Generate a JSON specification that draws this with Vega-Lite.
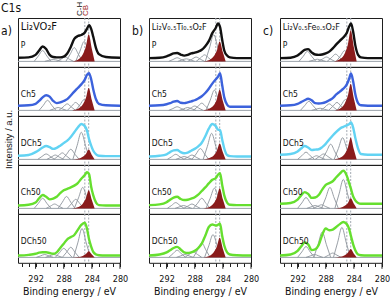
{
"$schema":"https://vega.github.io/schema/vega-lite/v6.json",
"padding":{"left":0,"top":1,"right":0,"bottom":0},
"data":{"values":[
{"p":"a","r":1,"k":"e","x":294.5,"y":0.10},{"p":"a","r":1,"k":"e","x":293,"y":0.11},{"p":"a","r":1,"k":"e","x":292,"y":0.18},{"p":"a","r":1,"k":"e","x":291.5,"y":0.30},{"p":"a","r":1,"k":"e","x":291,"y":0.41},{"p":"a","r":1,"k":"e","x":290.5,"y":0.34},{"p":"a","r":1,"k":"e","x":290,"y":0.18},{"p":"a","r":1,"k":"e","x":289.5,"y":0.12},{"p":"a","r":1,"k":"e","x":289,"y":0.11},{"p":"a","r":1,"k":"e","x":288.5,"y":0.11},{"p":"a","r":1,"k":"e","x":288,"y":0.13},{"p":"a","r":1,"k":"e","x":287.5,"y":0.22},{"p":"a","r":1,"k":"e","x":287,"y":0.40},{"p":"a","r":1,"k":"e","x":286.5,"y":0.62},{"p":"a","r":1,"k":"e","x":286,"y":0.70},{"p":"a","r":1,"k":"e","x":285.5,"y":0.73},{"p":"a","r":1,"k":"e","x":285,"y":0.80},{"p":"a","r":1,"k":"e","x":284.7,"y":0.90},{"p":"a","r":1,"k":"e","x":284.4,"y":1.0},{"p":"a","r":1,"k":"e","x":284.1,"y":0.90},{"p":"a","r":1,"k":"e","x":283.8,"y":0.68},{"p":"a","r":1,"k":"e","x":283.4,"y":0.36},{"p":"a","r":1,"k":"e","x":283,"y":0.20},{"p":"a","r":1,"k":"e","x":282,"y":0.12},{"p":"a","r":1,"k":"e","x":280,"y":0.10},
{"p":"a","r":2,"k":"e","x":294.5,"y":0.13},{"p":"a","r":2,"k":"e","x":293,"y":0.14},{"p":"a","r":2,"k":"e","x":292,"y":0.18},{"p":"a","r":2,"k":"e","x":291.5,"y":0.26},{"p":"a","r":2,"k":"e","x":291,"y":0.36},{"p":"a","r":2,"k":"e","x":290.5,"y":0.42},{"p":"a","r":2,"k":"e","x":290,"y":0.38},{"p":"a","r":2,"k":"e","x":289.5,"y":0.26},{"p":"a","r":2,"k":"e","x":289,"y":0.20},{"p":"a","r":2,"k":"e","x":288.5,"y":0.22},{"p":"a","r":2,"k":"e","x":288,"y":0.26},{"p":"a","r":2,"k":"e","x":287.5,"y":0.31},{"p":"a","r":2,"k":"e","x":287,"y":0.41},{"p":"a","r":2,"k":"e","x":286.5,"y":0.52},{"p":"a","r":2,"k":"e","x":286,"y":0.62},{"p":"a","r":2,"k":"e","x":285.5,"y":0.72},{"p":"a","r":2,"k":"e","x":285,"y":0.85},{"p":"a","r":2,"k":"e","x":284.7,"y":0.98},{"p":"a","r":2,"k":"e","x":284.4,"y":1.03},{"p":"a","r":2,"k":"e","x":284.1,"y":0.86},{"p":"a","r":2,"k":"e","x":283.8,"y":0.58},{"p":"a","r":2,"k":"e","x":283.4,"y":0.30},{"p":"a","r":2,"k":"e","x":283,"y":0.18},{"p":"a","r":2,"k":"e","x":282,"y":0.14},{"p":"a","r":2,"k":"e","x":280,"y":0.13},
{"p":"a","r":3,"k":"e","x":294.5,"y":0.10},{"p":"a","r":3,"k":"e","x":293,"y":0.12},{"p":"a","r":3,"k":"e","x":292,"y":0.20},{"p":"a","r":3,"k":"e","x":291.5,"y":0.26},{"p":"a","r":3,"k":"e","x":291,"y":0.33},{"p":"a","r":3,"k":"e","x":290.5,"y":0.37},{"p":"a","r":3,"k":"e","x":290,"y":0.34},{"p":"a","r":3,"k":"e","x":289.5,"y":0.29},{"p":"a","r":3,"k":"e","x":289,"y":0.32},{"p":"a","r":3,"k":"e","x":288.5,"y":0.38},{"p":"a","r":3,"k":"e","x":288,"y":0.45},{"p":"a","r":3,"k":"e","x":287.5,"y":0.52},{"p":"a","r":3,"k":"e","x":287,"y":0.62},{"p":"a","r":3,"k":"e","x":286.5,"y":0.75},{"p":"a","r":3,"k":"e","x":286,"y":0.88},{"p":"a","r":3,"k":"e","x":285.5,"y":0.98},{"p":"a","r":3,"k":"e","x":285,"y":0.92},{"p":"a","r":3,"k":"e","x":284.7,"y":0.80},{"p":"a","r":3,"k":"e","x":284.4,"y":0.56},{"p":"a","r":3,"k":"e","x":284.1,"y":0.38},{"p":"a","r":3,"k":"e","x":283.8,"y":0.24},{"p":"a","r":3,"k":"e","x":283.4,"y":0.14},{"p":"a","r":3,"k":"e","x":283,"y":0.10},{"p":"a","r":3,"k":"e","x":282,"y":0.09},{"p":"a","r":3,"k":"e","x":280,"y":0.09},
{"p":"a","r":4,"k":"e","x":294.5,"y":0.08},{"p":"a","r":4,"k":"e","x":293,"y":0.10},{"p":"a","r":4,"k":"e","x":292,"y":0.16},{"p":"a","r":4,"k":"e","x":291.5,"y":0.28},{"p":"a","r":4,"k":"e","x":291,"y":0.37},{"p":"a","r":4,"k":"e","x":290.5,"y":0.32},{"p":"a","r":4,"k":"e","x":290,"y":0.25},{"p":"a","r":4,"k":"e","x":289.5,"y":0.27},{"p":"a","r":4,"k":"e","x":289,"y":0.32},{"p":"a","r":4,"k":"e","x":288.5,"y":0.42},{"p":"a","r":4,"k":"e","x":288,"y":0.50},{"p":"a","r":4,"k":"e","x":287.5,"y":0.54},{"p":"a","r":4,"k":"e","x":287,"y":0.58},{"p":"a","r":4,"k":"e","x":286.5,"y":0.63},{"p":"a","r":4,"k":"e","x":286,"y":0.70},{"p":"a","r":4,"k":"e","x":285.5,"y":0.82},{"p":"a","r":4,"k":"e","x":285,"y":0.92},{"p":"a","r":4,"k":"e","x":284.7,"y":1.0},{"p":"a","r":4,"k":"e","x":284.4,"y":0.95},{"p":"a","r":4,"k":"e","x":284.1,"y":0.60},{"p":"a","r":4,"k":"e","x":283.8,"y":0.36},{"p":"a","r":4,"k":"e","x":283.4,"y":0.16},{"p":"a","r":4,"k":"e","x":283,"y":0.09},{"p":"a","r":4,"k":"e","x":282,"y":0.08},{"p":"a","r":4,"k":"e","x":280,"y":0.08},
{"p":"a","r":5,"k":"e","x":294.5,"y":0.05},{"p":"a","r":5,"k":"e","x":293,"y":0.07},{"p":"a","r":5,"k":"e","x":292,"y":0.10},{"p":"a","r":5,"k":"e","x":291.5,"y":0.13},{"p":"a","r":5,"k":"e","x":291,"y":0.14},{"p":"a","r":5,"k":"e","x":290.5,"y":0.14},{"p":"a","r":5,"k":"e","x":290,"y":0.12},{"p":"a","r":5,"k":"e","x":289.5,"y":0.10},{"p":"a","r":5,"k":"e","x":289,"y":0.14},{"p":"a","r":5,"k":"e","x":288.5,"y":0.26},{"p":"a","r":5,"k":"e","x":288,"y":0.38},{"p":"a","r":5,"k":"e","x":287.5,"y":0.50},{"p":"a","r":5,"k":"e","x":287,"y":0.56},{"p":"a","r":5,"k":"e","x":286.5,"y":0.62},{"p":"a","r":5,"k":"e","x":286,"y":0.76},{"p":"a","r":5,"k":"e","x":285.5,"y":0.90},{"p":"a","r":5,"k":"e","x":285,"y":0.96},{"p":"a","r":5,"k":"e","x":284.7,"y":0.80},{"p":"a","r":5,"k":"e","x":284.4,"y":0.50},{"p":"a","r":5,"k":"e","x":284.1,"y":0.30},{"p":"a","r":5,"k":"e","x":283.8,"y":0.15},{"p":"a","r":5,"k":"e","x":283.4,"y":0.08},{"p":"a","r":5,"k":"e","x":283,"y":0.06},{"p":"a","r":5,"k":"e","x":282,"y":0.05},{"p":"a","r":5,"k":"e","x":280,"y":0.05},
{"p":"b","r":1,"k":"e","x":294.5,"y":0.09},{"p":"b","r":1,"k":"e","x":293,"y":0.10},{"p":"b","r":1,"k":"e","x":292,"y":0.14},{"p":"b","r":1,"k":"e","x":291.5,"y":0.18},{"p":"b","r":1,"k":"e","x":291,"y":0.22},{"p":"b","r":1,"k":"e","x":290.5,"y":0.23},{"p":"b","r":1,"k":"e","x":290,"y":0.19},{"p":"b","r":1,"k":"e","x":289.5,"y":0.16},{"p":"b","r":1,"k":"e","x":289,"y":0.18},{"p":"b","r":1,"k":"e","x":288.5,"y":0.22},{"p":"b","r":1,"k":"e","x":288,"y":0.24},{"p":"b","r":1,"k":"e","x":287.5,"y":0.27},{"p":"b","r":1,"k":"e","x":287,"y":0.32},{"p":"b","r":1,"k":"e","x":286.5,"y":0.42},{"p":"b","r":1,"k":"e","x":286,"y":0.56},{"p":"b","r":1,"k":"e","x":285.5,"y":0.78},{"p":"b","r":1,"k":"e","x":285,"y":0.93},{"p":"b","r":1,"k":"e","x":284.7,"y":1.05},{"p":"b","r":1,"k":"e","x":284.4,"y":0.95},{"p":"b","r":1,"k":"e","x":284.1,"y":0.60},{"p":"b","r":1,"k":"e","x":283.8,"y":0.30},{"p":"b","r":1,"k":"e","x":283.4,"y":0.16},{"p":"b","r":1,"k":"e","x":283,"y":0.11},{"p":"b","r":1,"k":"e","x":282,"y":0.09},{"p":"b","r":1,"k":"e","x":280,"y":0.09},
{"p":"b","r":2,"k":"e","x":294.5,"y":0.13},{"p":"b","r":2,"k":"e","x":293,"y":0.14},{"p":"b","r":2,"k":"e","x":292,"y":0.17},{"p":"b","r":2,"k":"e","x":291.5,"y":0.20},{"p":"b","r":2,"k":"e","x":291,"y":0.24},{"p":"b","r":2,"k":"e","x":290.5,"y":0.26},{"p":"b","r":2,"k":"e","x":290,"y":0.21},{"p":"b","r":2,"k":"e","x":289.5,"y":0.20},{"p":"b","r":2,"k":"e","x":289,"y":0.22},{"p":"b","r":2,"k":"e","x":288.5,"y":0.25},{"p":"b","r":2,"k":"e","x":288,"y":0.28},{"p":"b","r":2,"k":"e","x":287.5,"y":0.33},{"p":"b","r":2,"k":"e","x":287,"y":0.39},{"p":"b","r":2,"k":"e","x":286.5,"y":0.48},{"p":"b","r":2,"k":"e","x":286,"y":0.60},{"p":"b","r":2,"k":"e","x":285.5,"y":0.74},{"p":"b","r":2,"k":"e","x":285,"y":0.86},{"p":"b","r":2,"k":"e","x":284.7,"y":0.93},{"p":"b","r":2,"k":"e","x":284.4,"y":1.03},{"p":"b","r":2,"k":"e","x":284.1,"y":0.70},{"p":"b","r":2,"k":"e","x":283.8,"y":0.36},{"p":"b","r":2,"k":"e","x":283.4,"y":0.16},{"p":"b","r":2,"k":"e","x":283,"y":0.10},{"p":"b","r":2,"k":"e","x":282,"y":0.10},{"p":"b","r":2,"k":"e","x":280,"y":0.10},
{"p":"b","r":3,"k":"e","x":294.5,"y":0.08},{"p":"b","r":3,"k":"e","x":293,"y":0.10},{"p":"b","r":3,"k":"e","x":292,"y":0.14},{"p":"b","r":3,"k":"e","x":291.5,"y":0.20},{"p":"b","r":3,"k":"e","x":291,"y":0.25},{"p":"b","r":3,"k":"e","x":290.5,"y":0.26},{"p":"b","r":3,"k":"e","x":290,"y":0.20},{"p":"b","r":3,"k":"e","x":289.5,"y":0.17},{"p":"b","r":3,"k":"e","x":289,"y":0.19},{"p":"b","r":3,"k":"e","x":288.5,"y":0.24},{"p":"b","r":3,"k":"e","x":288,"y":0.29},{"p":"b","r":3,"k":"e","x":287.5,"y":0.36},{"p":"b","r":3,"k":"e","x":287,"y":0.46},{"p":"b","r":3,"k":"e","x":286.5,"y":0.64},{"p":"b","r":3,"k":"e","x":286,"y":0.85},{"p":"b","r":3,"k":"e","x":285.5,"y":0.98},{"p":"b","r":3,"k":"e","x":285,"y":0.92},{"p":"b","r":3,"k":"e","x":284.7,"y":0.82},{"p":"b","r":3,"k":"e","x":284.4,"y":0.81},{"p":"b","r":3,"k":"e","x":284.1,"y":0.55},{"p":"b","r":3,"k":"e","x":283.8,"y":0.30},{"p":"b","r":3,"k":"e","x":283.4,"y":0.12},{"p":"b","r":3,"k":"e","x":283,"y":0.09},{"p":"b","r":3,"k":"e","x":282,"y":0.08},{"p":"b","r":3,"k":"e","x":280,"y":0.08},
{"p":"b","r":4,"k":"e","x":294.5,"y":0.09},{"p":"b","r":4,"k":"e","x":293,"y":0.11},{"p":"b","r":4,"k":"e","x":292,"y":0.17},{"p":"b","r":4,"k":"e","x":291.5,"y":0.24},{"p":"b","r":4,"k":"e","x":291,"y":0.30},{"p":"b","r":4,"k":"e","x":290.5,"y":0.32},{"p":"b","r":4,"k":"e","x":290,"y":0.26},{"p":"b","r":4,"k":"e","x":289.5,"y":0.23},{"p":"b","r":4,"k":"e","x":289,"y":0.24},{"p":"b","r":4,"k":"e","x":288.5,"y":0.27},{"p":"b","r":4,"k":"e","x":288,"y":0.31},{"p":"b","r":4,"k":"e","x":287.5,"y":0.38},{"p":"b","r":4,"k":"e","x":287,"y":0.48},{"p":"b","r":4,"k":"e","x":286.5,"y":0.58},{"p":"b","r":4,"k":"e","x":286,"y":0.69},{"p":"b","r":4,"k":"e","x":285.5,"y":0.79},{"p":"b","r":4,"k":"e","x":285,"y":0.84},{"p":"b","r":4,"k":"e","x":284.7,"y":0.93},{"p":"b","r":4,"k":"e","x":284.4,"y":0.97},{"p":"b","r":4,"k":"e","x":284.1,"y":0.65},{"p":"b","r":4,"k":"e","x":283.8,"y":0.36},{"p":"b","r":4,"k":"e","x":283.4,"y":0.16},{"p":"b","r":4,"k":"e","x":283,"y":0.10},{"p":"b","r":4,"k":"e","x":282,"y":0.09},{"p":"b","r":4,"k":"e","x":280,"y":0.09},
{"p":"b","r":5,"k":"e","x":294.5,"y":0.05},{"p":"b","r":5,"k":"e","x":293,"y":0.08},{"p":"b","r":5,"k":"e","x":292,"y":0.14},{"p":"b","r":5,"k":"e","x":291.5,"y":0.20},{"p":"b","r":5,"k":"e","x":291,"y":0.26},{"p":"b","r":5,"k":"e","x":290.5,"y":0.29},{"p":"b","r":5,"k":"e","x":290,"y":0.22},{"p":"b","r":5,"k":"e","x":289.5,"y":0.14},{"p":"b","r":5,"k":"e","x":289,"y":0.12},{"p":"b","r":5,"k":"e","x":288.5,"y":0.14},{"p":"b","r":5,"k":"e","x":288,"y":0.18},{"p":"b","r":5,"k":"e","x":287.5,"y":0.26},{"p":"b","r":5,"k":"e","x":287,"y":0.38},{"p":"b","r":5,"k":"e","x":286.5,"y":0.60},{"p":"b","r":5,"k":"e","x":286,"y":0.84},{"p":"b","r":5,"k":"e","x":285.5,"y":0.91},{"p":"b","r":5,"k":"e","x":285,"y":0.88},{"p":"b","r":5,"k":"e","x":284.7,"y":0.90},{"p":"b","r":5,"k":"e","x":284.4,"y":0.93},{"p":"b","r":5,"k":"e","x":284.1,"y":0.60},{"p":"b","r":5,"k":"e","x":283.8,"y":0.33},{"p":"b","r":5,"k":"e","x":283.4,"y":0.14},{"p":"b","r":5,"k":"e","x":283,"y":0.08},{"p":"b","r":5,"k":"e","x":282,"y":0.06},{"p":"b","r":5,"k":"e","x":280,"y":0.05},
{"p":"c","r":1,"k":"e","x":294.5,"y":0.09},{"p":"c","r":1,"k":"e","x":293,"y":0.10},{"p":"c","r":1,"k":"e","x":292,"y":0.16},{"p":"c","r":1,"k":"e","x":291.5,"y":0.24},{"p":"c","r":1,"k":"e","x":291,"y":0.32},{"p":"c","r":1,"k":"e","x":290.5,"y":0.34},{"p":"c","r":1,"k":"e","x":290,"y":0.25},{"p":"c","r":1,"k":"e","x":289.5,"y":0.19},{"p":"c","r":1,"k":"e","x":289,"y":0.18},{"p":"c","r":1,"k":"e","x":288.5,"y":0.19},{"p":"c","r":1,"k":"e","x":288,"y":0.22},{"p":"c","r":1,"k":"e","x":287.5,"y":0.27},{"p":"c","r":1,"k":"e","x":287,"y":0.36},{"p":"c","r":1,"k":"e","x":286.5,"y":0.47},{"p":"c","r":1,"k":"e","x":286,"y":0.57},{"p":"c","r":1,"k":"e","x":285.5,"y":0.66},{"p":"c","r":1,"k":"e","x":285,"y":0.79},{"p":"c","r":1,"k":"e","x":284.7,"y":0.95},{"p":"c","r":1,"k":"e","x":284.4,"y":1.05},{"p":"c","r":1,"k":"e","x":284.1,"y":0.82},{"p":"c","r":1,"k":"e","x":283.8,"y":0.45},{"p":"c","r":1,"k":"e","x":283.4,"y":0.18},{"p":"c","r":1,"k":"e","x":283,"y":0.11},{"p":"c","r":1,"k":"e","x":282,"y":0.09},{"p":"c","r":1,"k":"e","x":280,"y":0.09},
{"p":"c","r":2,"k":"e","x":294.5,"y":0.13},{"p":"c","r":2,"k":"e","x":293,"y":0.14},{"p":"c","r":2,"k":"e","x":292,"y":0.18},{"p":"c","r":2,"k":"e","x":291.5,"y":0.23},{"p":"c","r":2,"k":"e","x":291,"y":0.28},{"p":"c","r":2,"k":"e","x":290.5,"y":0.32},{"p":"c","r":2,"k":"e","x":290,"y":0.28},{"p":"c","r":2,"k":"e","x":289.5,"y":0.20},{"p":"c","r":2,"k":"e","x":289,"y":0.19},{"p":"c","r":2,"k":"e","x":288.5,"y":0.20},{"p":"c","r":2,"k":"e","x":288,"y":0.23},{"p":"c","r":2,"k":"e","x":287.5,"y":0.28},{"p":"c","r":2,"k":"e","x":287,"y":0.34},{"p":"c","r":2,"k":"e","x":286.5,"y":0.44},{"p":"c","r":2,"k":"e","x":286,"y":0.52},{"p":"c","r":2,"k":"e","x":285.5,"y":0.60},{"p":"c","r":2,"k":"e","x":285,"y":0.72},{"p":"c","r":2,"k":"e","x":284.7,"y":0.86},{"p":"c","r":2,"k":"e","x":284.4,"y":1.02},{"p":"c","r":2,"k":"e","x":284.1,"y":0.80},{"p":"c","r":2,"k":"e","x":283.8,"y":0.45},{"p":"c","r":2,"k":"e","x":283.4,"y":0.20},{"p":"c","r":2,"k":"e","x":283,"y":0.14},{"p":"c","r":2,"k":"e","x":282,"y":0.13},{"p":"c","r":2,"k":"e","x":280,"y":0.13},
{"p":"c","r":3,"k":"e","x":294.5,"y":0.13},{"p":"c","r":3,"k":"e","x":293,"y":0.15},{"p":"c","r":3,"k":"e","x":292,"y":0.22},{"p":"c","r":3,"k":"e","x":291.5,"y":0.30},{"p":"c","r":3,"k":"e","x":291,"y":0.37},{"p":"c","r":3,"k":"e","x":290.5,"y":0.33},{"p":"c","r":3,"k":"e","x":290,"y":0.26},{"p":"c","r":3,"k":"e","x":289.5,"y":0.27},{"p":"c","r":3,"k":"e","x":289,"y":0.28},{"p":"c","r":3,"k":"e","x":288.5,"y":0.34},{"p":"c","r":3,"k":"e","x":288,"y":0.43},{"p":"c","r":3,"k":"e","x":287.5,"y":0.55},{"p":"c","r":3,"k":"e","x":287,"y":0.66},{"p":"c","r":3,"k":"e","x":286.5,"y":0.76},{"p":"c","r":3,"k":"e","x":286,"y":0.85},{"p":"c","r":3,"k":"e","x":285.5,"y":0.90},{"p":"c","r":3,"k":"e","x":285,"y":0.94},{"p":"c","r":3,"k":"e","x":284.7,"y":0.97},{"p":"c","r":3,"k":"e","x":284.4,"y":1.02},{"p":"c","r":3,"k":"e","x":284.1,"y":0.88},{"p":"c","r":3,"k":"e","x":283.8,"y":0.60},{"p":"c","r":3,"k":"e","x":283.4,"y":0.30},{"p":"c","r":3,"k":"e","x":283,"y":0.15},{"p":"c","r":3,"k":"e","x":282,"y":0.13},{"p":"c","r":3,"k":"e","x":280,"y":0.13},
{"p":"c","r":4,"k":"e","x":294.5,"y":0.13},{"p":"c","r":4,"k":"e","x":293,"y":0.15},{"p":"c","r":4,"k":"e","x":292,"y":0.24},{"p":"c","r":4,"k":"e","x":291.5,"y":0.36},{"p":"c","r":4,"k":"e","x":291,"y":0.45},{"p":"c","r":4,"k":"e","x":290.5,"y":0.40},{"p":"c","r":4,"k":"e","x":290,"y":0.29},{"p":"c","r":4,"k":"e","x":289.5,"y":0.30},{"p":"c","r":4,"k":"e","x":289,"y":0.37},{"p":"c","r":4,"k":"e","x":288.5,"y":0.52},{"p":"c","r":4,"k":"e","x":288,"y":0.65},{"p":"c","r":4,"k":"e","x":287.5,"y":0.70},{"p":"c","r":4,"k":"e","x":287,"y":0.75},{"p":"c","r":4,"k":"e","x":286.5,"y":0.86},{"p":"c","r":4,"k":"e","x":286,"y":0.96},{"p":"c","r":4,"k":"e","x":285.5,"y":1.04},{"p":"c","r":4,"k":"e","x":285,"y":0.90},{"p":"c","r":4,"k":"e","x":284.7,"y":0.72},{"p":"c","r":4,"k":"e","x":284.4,"y":0.53},{"p":"c","r":4,"k":"e","x":284.1,"y":0.33},{"p":"c","r":4,"k":"e","x":283.8,"y":0.22},{"p":"c","r":4,"k":"e","x":283.4,"y":0.15},{"p":"c","r":4,"k":"e","x":283,"y":0.13},{"p":"c","r":4,"k":"e","x":282,"y":0.13},{"p":"c","r":4,"k":"e","x":280,"y":0.13},
{"p":"c","r":5,"k":"e","x":294.5,"y":0.05},{"p":"c","r":5,"k":"e","x":293,"y":0.08},{"p":"c","r":5,"k":"e","x":292,"y":0.18},{"p":"c","r":5,"k":"e","x":291.5,"y":0.30},{"p":"c","r":5,"k":"e","x":291,"y":0.41},{"p":"c","r":5,"k":"e","x":290.5,"y":0.36},{"p":"c","r":5,"k":"e","x":290,"y":0.20},{"p":"c","r":5,"k":"e","x":289.5,"y":0.22},{"p":"c","r":5,"k":"e","x":289,"y":0.34},{"p":"c","r":5,"k":"e","x":288.5,"y":0.62},{"p":"c","r":5,"k":"e","x":288,"y":0.80},{"p":"c","r":5,"k":"e","x":287.5,"y":0.75},{"p":"c","r":5,"k":"e","x":287,"y":0.77},{"p":"c","r":5,"k":"e","x":286.5,"y":0.84},{"p":"c","r":5,"k":"e","x":286,"y":0.92},{"p":"c","r":5,"k":"e","x":285.5,"y":0.98},{"p":"c","r":5,"k":"e","x":285,"y":0.92},{"p":"c","r":5,"k":"e","x":284.7,"y":0.80},{"p":"c","r":5,"k":"e","x":284.4,"y":0.58},{"p":"c","r":5,"k":"e","x":284.1,"y":0.36},{"p":"c","r":5,"k":"e","x":283.8,"y":0.20},{"p":"c","r":5,"k":"e","x":283.4,"y":0.08},{"p":"c","r":5,"k":"e","x":283,"y":0.06},{"p":"c","r":5,"k":"e","x":282,"y":0.05},{"p":"c","r":5,"k":"e","x":280,"y":0.05},
{"p":"a","r":1,"k":"g1","x":289.8,"y":0},{"p":"a","r":1,"k":"g1","x":290.4,"y":0.15},{"p":"a","r":1,"k":"g1","x":291,"y":0.30},{"p":"a","r":1,"k":"g1","x":291.6,"y":0.15},{"p":"a","r":1,"k":"g1","x":292.2,"y":0},
{"p":"a","r":1,"k":"g2","x":288.3,"y":0},{"p":"a","r":1,"k":"g2","x":288.9,"y":0.03},{"p":"a","r":1,"k":"g2","x":289.5,"y":0.05},{"p":"a","r":1,"k":"g2","x":290.1,"y":0.03},{"p":"a","r":1,"k":"g2","x":290.7,"y":0},
{"p":"a","r":1,"k":"g3","x":286.6,"y":0},{"p":"a","r":1,"k":"g3","x":287.2,"y":0.06},{"p":"a","r":1,"k":"g3","x":287.8,"y":0.12},{"p":"a","r":1,"k":"g3","x":288.4,"y":0.06},{"p":"a","r":1,"k":"g3","x":289,"y":0},
{"p":"a","r":1,"k":"g4","x":285.3,"y":0},{"p":"a","r":1,"k":"g4","x":285.9,"y":0.19},{"p":"a","r":1,"k":"g4","x":286.5,"y":0.38},{"p":"a","r":1,"k":"g4","x":287.1,"y":0.19},{"p":"a","r":1,"k":"g4","x":287.7,"y":0},
{"p":"a","r":1,"k":"g5","x":283.9,"y":0},{"p":"a","r":1,"k":"g5","x":284.5,"y":0.28},{"p":"a","r":1,"k":"g5","x":285.1,"y":0.55},{"p":"a","r":1,"k":"g5","x":285.7,"y":0.28},{"p":"a","r":1,"k":"g5","x":286.3,"y":0},
{"p":"a","r":1,"k":"c","x":283.6,"y":0},{"p":"a","r":1,"k":"c","x":284,"y":0.34},{"p":"a","r":1,"k":"c","x":284.45,"y":0.75},{"p":"a","r":1,"k":"c","x":284.85,"y":0.41},{"p":"a","r":1,"k":"c","x":285.3,"y":0.19},{"p":"a","r":1,"k":"c","x":285.9,"y":0.06},{"p":"a","r":1,"k":"c","x":286.8,"y":0},
{"p":"a","r":2,"k":"g1","x":289.1,"y":0},{"p":"a","r":2,"k":"g1","x":289.7,"y":0.14},{"p":"a","r":2,"k":"g1","x":290.3,"y":0.28},{"p":"a","r":2,"k":"g1","x":290.9,"y":0.14},{"p":"a","r":2,"k":"g1","x":291.5,"y":0},
{"p":"a","r":2,"k":"g2","x":287.6,"y":0},{"p":"a","r":2,"k":"g2","x":288.2,"y":0.04},{"p":"a","r":2,"k":"g2","x":288.8,"y":0.08},{"p":"a","r":2,"k":"g2","x":289.4,"y":0.04},{"p":"a","r":2,"k":"g2","x":290,"y":0},
{"p":"a","r":2,"k":"g3","x":286.3,"y":0},{"p":"a","r":2,"k":"g3","x":286.9,"y":0.09},{"p":"a","r":2,"k":"g3","x":287.5,"y":0.18},{"p":"a","r":2,"k":"g3","x":288.1,"y":0.09},{"p":"a","r":2,"k":"g3","x":288.7,"y":0},
{"p":"a","r":2,"k":"g4","x":285.1,"y":0},{"p":"a","r":2,"k":"g4","x":285.7,"y":0.11},{"p":"a","r":2,"k":"g4","x":286.3,"y":0.22},{"p":"a","r":2,"k":"g4","x":286.9,"y":0.11},{"p":"a","r":2,"k":"g4","x":287.5,"y":0},
{"p":"a","r":2,"k":"g5","x":283.9,"y":0},{"p":"a","r":2,"k":"g5","x":284.5,"y":0.15},{"p":"a","r":2,"k":"g5","x":285.1,"y":0.30},{"p":"a","r":2,"k":"g5","x":285.7,"y":0.15},{"p":"a","r":2,"k":"g5","x":286.3,"y":0},
{"p":"a","r":2,"k":"c","x":283.6,"y":0},{"p":"a","r":2,"k":"c","x":284,"y":0.28},{"p":"a","r":2,"k":"c","x":284.45,"y":0.62},{"p":"a","r":2,"k":"c","x":284.85,"y":0.34},{"p":"a","r":2,"k":"c","x":285.3,"y":0.16},{"p":"a","r":2,"k":"c","x":285.9,"y":0.05},{"p":"a","r":2,"k":"c","x":286.8,"y":0},
{"p":"a","r":3,"k":"g1","x":289.3,"y":0},{"p":"a","r":3,"k":"g1","x":289.9,"y":0.08},{"p":"a","r":3,"k":"g1","x":290.5,"y":0.15},{"p":"a","r":3,"k":"g1","x":291.1,"y":0.08},{"p":"a","r":3,"k":"g1","x":291.7,"y":0},
{"p":"a","r":3,"k":"g2","x":288,"y":0},{"p":"a","r":3,"k":"g2","x":288.6,"y":0.06},{"p":"a","r":3,"k":"g2","x":289.2,"y":0.12},{"p":"a","r":3,"k":"g2","x":289.8,"y":0.06},{"p":"a","r":3,"k":"g2","x":290.4,"y":0},
{"p":"a","r":3,"k":"g3","x":287,"y":0},{"p":"a","r":3,"k":"g3","x":287.6,"y":0.09},{"p":"a","r":3,"k":"g3","x":288.2,"y":0.18},{"p":"a","r":3,"k":"g3","x":288.8,"y":0.09},{"p":"a","r":3,"k":"g3","x":289.4,"y":0},
{"p":"a","r":3,"k":"g4","x":285.8,"y":0},{"p":"a","r":3,"k":"g4","x":286.4,"y":0.14},{"p":"a","r":3,"k":"g4","x":287,"y":0.28},{"p":"a","r":3,"k":"g4","x":287.6,"y":0.14},{"p":"a","r":3,"k":"g4","x":288.2,"y":0},
{"p":"a","r":3,"k":"g5","x":284.3,"y":0},{"p":"a","r":3,"k":"g5","x":284.9,"y":0.38},{"p":"a","r":3,"k":"g5","x":285.5,"y":0.75},{"p":"a","r":3,"k":"g5","x":286.1,"y":0.38},{"p":"a","r":3,"k":"g5","x":286.7,"y":0},
{"p":"a","r":3,"k":"c","x":283.6,"y":0},{"p":"a","r":3,"k":"c","x":284,"y":0.12},{"p":"a","r":3,"k":"c","x":284.45,"y":0.27},{"p":"a","r":3,"k":"c","x":284.85,"y":0.15},{"p":"a","r":3,"k":"c","x":285.3,"y":0.07},{"p":"a","r":3,"k":"c","x":285.9,"y":0.02},{"p":"a","r":3,"k":"c","x":286.8,"y":0},
{"p":"a","r":4,"k":"g1","x":289.8,"y":0},{"p":"a","r":4,"k":"g1","x":290.4,"y":0.14},{"p":"a","r":4,"k":"g1","x":291,"y":0.28},{"p":"a","r":4,"k":"g1","x":291.6,"y":0.14},{"p":"a","r":4,"k":"g1","x":292.2,"y":0},
{"p":"a","r":4,"k":"g2","x":288.1,"y":0},{"p":"a","r":4,"k":"g2","x":288.7,"y":0.06},{"p":"a","r":4,"k":"g2","x":289.3,"y":0.12},{"p":"a","r":4,"k":"g2","x":289.9,"y":0.06},{"p":"a","r":4,"k":"g2","x":290.5,"y":0},
{"p":"a","r":4,"k":"g3","x":286.4,"y":0},{"p":"a","r":4,"k":"g3","x":287,"y":0.17},{"p":"a","r":4,"k":"g3","x":287.6,"y":0.33},{"p":"a","r":4,"k":"g3","x":288.2,"y":0.17},{"p":"a","r":4,"k":"g3","x":288.8,"y":0},
{"p":"a","r":4,"k":"g4","x":285.1,"y":0},{"p":"a","r":4,"k":"g4","x":285.7,"y":0.13},{"p":"a","r":4,"k":"g4","x":286.3,"y":0.25},{"p":"a","r":4,"k":"g4","x":286.9,"y":0.13},{"p":"a","r":4,"k":"g4","x":287.5,"y":0},
{"p":"a","r":4,"k":"g5","x":284.1,"y":0},{"p":"a","r":4,"k":"g5","x":284.7,"y":0.29},{"p":"a","r":4,"k":"g5","x":285.3,"y":0.58},{"p":"a","r":4,"k":"g5","x":285.9,"y":0.29},{"p":"a","r":4,"k":"g5","x":286.5,"y":0},
{"p":"a","r":4,"k":"c","x":283.6,"y":0},{"p":"a","r":4,"k":"c","x":284,"y":0.23},{"p":"a","r":4,"k":"c","x":284.45,"y":0.50},{"p":"a","r":4,"k":"c","x":284.85,"y":0.28},{"p":"a","r":4,"k":"c","x":285.3,"y":0.13},{"p":"a","r":4,"k":"c","x":285.9,"y":0.04},{"p":"a","r":4,"k":"c","x":286.8,"y":0},
{"p":"a","r":5,"k":"g1","x":289.5,"y":0},{"p":"a","r":5,"k":"g1","x":290.1,"y":0.04},{"p":"a","r":5,"k":"g1","x":290.7,"y":0.08},{"p":"a","r":5,"k":"g1","x":291.3,"y":0.04},{"p":"a","r":5,"k":"g1","x":291.9,"y":0},
{"p":"a","r":5,"k":"g2","x":288.2,"y":0},{"p":"a","r":5,"k":"g2","x":288.8,"y":0.04},{"p":"a","r":5,"k":"g2","x":289.4,"y":0.08},{"p":"a","r":5,"k":"g2","x":290,"y":0.04},{"p":"a","r":5,"k":"g2","x":290.6,"y":0},
{"p":"a","r":5,"k":"g3","x":286.8,"y":0},{"p":"a","r":5,"k":"g3","x":287.4,"y":0.13},{"p":"a","r":5,"k":"g3","x":288,"y":0.25},{"p":"a","r":5,"k":"g3","x":288.6,"y":0.13},{"p":"a","r":5,"k":"g3","x":289.2,"y":0},
{"p":"a","r":5,"k":"g4","x":285.8,"y":0},{"p":"a","r":5,"k":"g4","x":286.4,"y":0.14},{"p":"a","r":5,"k":"g4","x":287,"y":0.28},{"p":"a","r":5,"k":"g4","x":287.6,"y":0.14},{"p":"a","r":5,"k":"g4","x":288.2,"y":0},
{"p":"a","r":5,"k":"g5","x":284.2,"y":0},{"p":"a","r":5,"k":"g5","x":284.8,"y":0.40},{"p":"a","r":5,"k":"g5","x":285.4,"y":0.80},{"p":"a","r":5,"k":"g5","x":286,"y":0.40},{"p":"a","r":5,"k":"g5","x":286.6,"y":0},
{"p":"a","r":5,"k":"c","x":283.6,"y":0},{"p":"a","r":5,"k":"c","x":284,"y":0.08},{"p":"a","r":5,"k":"c","x":284.45,"y":0.17},{"p":"a","r":5,"k":"c","x":284.85,"y":0.09},{"p":"a","r":5,"k":"c","x":285.3,"y":0.04},{"p":"a","r":5,"k":"c","x":285.9,"y":0.01},{"p":"a","r":5,"k":"c","x":286.8,"y":0},
{"p":"b","r":1,"k":"g1","x":289.3,"y":0},{"p":"b","r":1,"k":"g1","x":289.9,"y":0.05},{"p":"b","r":1,"k":"g1","x":290.5,"y":0.10},{"p":"b","r":1,"k":"g1","x":291.1,"y":0.05},{"p":"b","r":1,"k":"g1","x":291.7,"y":0},
{"p":"b","r":1,"k":"g2","x":288,"y":0},{"p":"b","r":1,"k":"g2","x":288.6,"y":0.04},{"p":"b","r":1,"k":"g2","x":289.2,"y":0.07},{"p":"b","r":1,"k":"g2","x":289.8,"y":0.04},{"p":"b","r":1,"k":"g2","x":290.4,"y":0},
{"p":"b","r":1,"k":"g3","x":286.6,"y":0},{"p":"b","r":1,"k":"g3","x":287.2,"y":0.06},{"p":"b","r":1,"k":"g3","x":287.8,"y":0.12},{"p":"b","r":1,"k":"g3","x":288.4,"y":0.06},{"p":"b","r":1,"k":"g3","x":289,"y":0},
{"p":"b","r":1,"k":"g4","x":285.4,"y":0},{"p":"b","r":1,"k":"g4","x":286,"y":0.09},{"p":"b","r":1,"k":"g4","x":286.6,"y":0.18},{"p":"b","r":1,"k":"g4","x":287.2,"y":0.09},{"p":"b","r":1,"k":"g4","x":287.8,"y":0},
{"p":"b","r":1,"k":"g5","x":284.1,"y":0},{"p":"b","r":1,"k":"g5","x":284.7,"y":0.37},{"p":"b","r":1,"k":"g5","x":285.3,"y":0.74},{"p":"b","r":1,"k":"g5","x":285.9,"y":0.37},{"p":"b","r":1,"k":"g5","x":286.5,"y":0},
{"p":"b","r":1,"k":"c","x":283.6,"y":0},{"p":"b","r":1,"k":"c","x":284,"y":0.25},{"p":"b","r":1,"k":"c","x":284.45,"y":0.55},{"p":"b","r":1,"k":"c","x":284.85,"y":0.30},{"p":"b","r":1,"k":"c","x":285.3,"y":0.14},{"p":"b","r":1,"k":"c","x":285.9,"y":0.04},{"p":"b","r":1,"k":"c","x":286.8,"y":0},
{"p":"b","r":2,"k":"g1","x":289.3,"y":0},{"p":"b","r":2,"k":"g1","x":289.9,"y":0.05},{"p":"b","r":2,"k":"g1","x":290.5,"y":0.10},{"p":"b","r":2,"k":"g1","x":291.1,"y":0.05},{"p":"b","r":2,"k":"g1","x":291.7,"y":0},
{"p":"b","r":2,"k":"g2","x":287.8,"y":0},{"p":"b","r":2,"k":"g2","x":288.4,"y":0.04},{"p":"b","r":2,"k":"g2","x":289,"y":0.08},{"p":"b","r":2,"k":"g2","x":289.6,"y":0.04},{"p":"b","r":2,"k":"g2","x":290.2,"y":0},
{"p":"b","r":2,"k":"g3","x":286.8,"y":0},{"p":"b","r":2,"k":"g3","x":287.4,"y":0.06},{"p":"b","r":2,"k":"g3","x":288,"y":0.12},{"p":"b","r":2,"k":"g3","x":288.6,"y":0.06},{"p":"b","r":2,"k":"g3","x":289.2,"y":0},
{"p":"b","r":2,"k":"g4","x":285.8,"y":0},{"p":"b","r":2,"k":"g4","x":286.4,"y":0.10},{"p":"b","r":2,"k":"g4","x":287,"y":0.20},{"p":"b","r":2,"k":"g4","x":287.6,"y":0.10},{"p":"b","r":2,"k":"g4","x":288.2,"y":0},
{"p":"b","r":2,"k":"g5","x":284,"y":0},{"p":"b","r":2,"k":"g5","x":284.6,"y":0.28},{"p":"b","r":2,"k":"g5","x":285.2,"y":0.56},{"p":"b","r":2,"k":"g5","x":285.8,"y":0.28},{"p":"b","r":2,"k":"g5","x":286.4,"y":0},
{"p":"b","r":2,"k":"c","x":283.6,"y":0},{"p":"b","r":2,"k":"c","x":284,"y":0.26},{"p":"b","r":2,"k":"c","x":284.45,"y":0.57},{"p":"b","r":2,"k":"c","x":284.85,"y":0.31},{"p":"b","r":2,"k":"c","x":285.3,"y":0.14},{"p":"b","r":2,"k":"c","x":285.9,"y":0.05},{"p":"b","r":2,"k":"c","x":286.8,"y":0},
{"p":"b","r":3,"k":"g1","x":289.5,"y":0},{"p":"b","r":3,"k":"g1","x":290.1,"y":0.07},{"p":"b","r":3,"k":"g1","x":290.7,"y":0.14},{"p":"b","r":3,"k":"g1","x":291.3,"y":0.07},{"p":"b","r":3,"k":"g1","x":291.9,"y":0},
{"p":"b","r":3,"k":"g2","x":288.3,"y":0},{"p":"b","r":3,"k":"g2","x":288.9,"y":0.04},{"p":"b","r":3,"k":"g2","x":289.5,"y":0.08},{"p":"b","r":3,"k":"g2","x":290.1,"y":0.04},{"p":"b","r":3,"k":"g2","x":290.7,"y":0},
{"p":"b","r":3,"k":"g3","x":287.2,"y":0},{"p":"b","r":3,"k":"g3","x":287.8,"y":0.06},{"p":"b","r":3,"k":"g3","x":288.4,"y":0.12},{"p":"b","r":3,"k":"g3","x":289,"y":0.06},{"p":"b","r":3,"k":"g3","x":289.6,"y":0},
{"p":"b","r":3,"k":"g4","x":286,"y":0},{"p":"b","r":3,"k":"g4","x":286.6,"y":0.15},{"p":"b","r":3,"k":"g4","x":287.2,"y":0.30},{"p":"b","r":3,"k":"g4","x":287.8,"y":0.15},{"p":"b","r":3,"k":"g4","x":288.4,"y":0},
{"p":"b","r":3,"k":"g5","x":284.4,"y":0},{"p":"b","r":3,"k":"g5","x":285,"y":0.36},{"p":"b","r":3,"k":"g5","x":285.6,"y":0.72},{"p":"b","r":3,"k":"g5","x":286.2,"y":0.36},{"p":"b","r":3,"k":"g5","x":286.8,"y":0},
{"p":"b","r":3,"k":"c","x":283.6,"y":0},{"p":"b","r":3,"k":"c","x":284,"y":0.20},{"p":"b","r":3,"k":"c","x":284.45,"y":0.44},{"p":"b","r":3,"k":"c","x":284.85,"y":0.24},{"p":"b","r":3,"k":"c","x":285.3,"y":0.11},{"p":"b","r":3,"k":"c","x":285.9,"y":0.04},{"p":"b","r":3,"k":"c","x":286.8,"y":0},
{"p":"b","r":4,"k":"g1","x":289.5,"y":0},{"p":"b","r":4,"k":"g1","x":290.1,"y":0.08},{"p":"b","r":4,"k":"g1","x":290.7,"y":0.16},{"p":"b","r":4,"k":"g1","x":291.3,"y":0.08},{"p":"b","r":4,"k":"g1","x":291.9,"y":0},
{"p":"b","r":4,"k":"g2","x":288.4,"y":0},{"p":"b","r":4,"k":"g2","x":289,"y":0.04},{"p":"b","r":4,"k":"g2","x":289.6,"y":0.08},{"p":"b","r":4,"k":"g2","x":290.2,"y":0.04},{"p":"b","r":4,"k":"g2","x":290.8,"y":0},
{"p":"b","r":4,"k":"g3","x":287.2,"y":0},{"p":"b","r":4,"k":"g3","x":287.8,"y":0.06},{"p":"b","r":4,"k":"g3","x":288.4,"y":0.12},{"p":"b","r":4,"k":"g3","x":289,"y":0.06},{"p":"b","r":4,"k":"g3","x":289.6,"y":0},
{"p":"b","r":4,"k":"g4","x":285.8,"y":0},{"p":"b","r":4,"k":"g4","x":286.4,"y":0.14},{"p":"b","r":4,"k":"g4","x":287,"y":0.28},{"p":"b","r":4,"k":"g4","x":287.6,"y":0.14},{"p":"b","r":4,"k":"g4","x":288.2,"y":0},
{"p":"b","r":4,"k":"g5","x":284,"y":0},{"p":"b","r":4,"k":"g5","x":284.6,"y":0.28},{"p":"b","r":4,"k":"g5","x":285.2,"y":0.56},{"p":"b","r":4,"k":"g5","x":285.8,"y":0.28},{"p":"b","r":4,"k":"g5","x":286.4,"y":0},
{"p":"b","r":4,"k":"c","x":283.6,"y":0},{"p":"b","r":4,"k":"c","x":284,"y":0.25},{"p":"b","r":4,"k":"c","x":284.45,"y":0.56},{"p":"b","r":4,"k":"c","x":284.85,"y":0.31},{"p":"b","r":4,"k":"c","x":285.3,"y":0.14},{"p":"b","r":4,"k":"c","x":285.9,"y":0.04},{"p":"b","r":4,"k":"c","x":286.8,"y":0},
{"p":"b","r":5,"k":"g1","x":289.3,"y":0},{"p":"b","r":5,"k":"g1","x":289.9,"y":0.10},{"p":"b","r":5,"k":"g1","x":290.5,"y":0.20},{"p":"b","r":5,"k":"g1","x":291.1,"y":0.10},{"p":"b","r":5,"k":"g1","x":291.7,"y":0},
{"p":"b","r":5,"k":"g2","x":288.2,"y":0},{"p":"b","r":5,"k":"g2","x":288.8,"y":0.04},{"p":"b","r":5,"k":"g2","x":289.4,"y":0.08},{"p":"b","r":5,"k":"g2","x":290,"y":0.04},{"p":"b","r":5,"k":"g2","x":290.6,"y":0},
{"p":"b","r":5,"k":"g3","x":287,"y":0},{"p":"b","r":5,"k":"g3","x":287.6,"y":0.08},{"p":"b","r":5,"k":"g3","x":288.2,"y":0.15},{"p":"b","r":5,"k":"g3","x":288.8,"y":0.08},{"p":"b","r":5,"k":"g3","x":289.4,"y":0},
{"p":"b","r":5,"k":"g4","x":285.8,"y":0},{"p":"b","r":5,"k":"g4","x":286.4,"y":0.20},{"p":"b","r":5,"k":"g4","x":287,"y":0.40},{"p":"b","r":5,"k":"g4","x":287.6,"y":0.20},{"p":"b","r":5,"k":"g4","x":288.2,"y":0},
{"p":"b","r":5,"k":"g5","x":284.2,"y":0},{"p":"b","r":5,"k":"g5","x":284.8,"y":0.32},{"p":"b","r":5,"k":"g5","x":285.4,"y":0.63},{"p":"b","r":5,"k":"g5","x":286,"y":0.32},{"p":"b","r":5,"k":"g5","x":286.6,"y":0},
{"p":"b","r":5,"k":"c","x":283.6,"y":0},{"p":"b","r":5,"k":"c","x":284,"y":0.24},{"p":"b","r":5,"k":"c","x":284.45,"y":0.54},{"p":"b","r":5,"k":"c","x":284.85,"y":0.30},{"p":"b","r":5,"k":"c","x":285.3,"y":0.14},{"p":"b","r":5,"k":"c","x":285.9,"y":0.04},{"p":"b","r":5,"k":"c","x":286.8,"y":0},
{"p":"c","r":1,"k":"g1","x":289.4,"y":0},{"p":"c","r":1,"k":"g1","x":290,"y":0.14},{"p":"c","r":1,"k":"g1","x":290.6,"y":0.28},{"p":"c","r":1,"k":"g1","x":291.2,"y":0.14},{"p":"c","r":1,"k":"g1","x":291.8,"y":0},
{"p":"c","r":1,"k":"g2","x":288,"y":0},{"p":"c","r":1,"k":"g2","x":288.6,"y":0.03},{"p":"c","r":1,"k":"g2","x":289.2,"y":0.06},{"p":"c","r":1,"k":"g2","x":289.8,"y":0.03},{"p":"c","r":1,"k":"g2","x":290.4,"y":0},
{"p":"c","r":1,"k":"g3","x":286.7,"y":0},{"p":"c","r":1,"k":"g3","x":287.3,"y":0.06},{"p":"c","r":1,"k":"g3","x":287.9,"y":0.12},{"p":"c","r":1,"k":"g3","x":288.5,"y":0.06},{"p":"c","r":1,"k":"g3","x":289.1,"y":0},
{"p":"c","r":1,"k":"g4","x":285.4,"y":0},{"p":"c","r":1,"k":"g4","x":286,"y":0.10},{"p":"c","r":1,"k":"g4","x":286.6,"y":0.20},{"p":"c","r":1,"k":"g4","x":287.2,"y":0.10},{"p":"c","r":1,"k":"g4","x":287.8,"y":0},
{"p":"c","r":1,"k":"g5","x":284.1,"y":0},{"p":"c","r":1,"k":"g5","x":284.7,"y":0.15},{"p":"c","r":1,"k":"g5","x":285.3,"y":0.30},{"p":"c","r":1,"k":"g5","x":285.9,"y":0.15},{"p":"c","r":1,"k":"g5","x":286.5,"y":0},
{"p":"c","r":1,"k":"c","x":283.6,"y":0},{"p":"c","r":1,"k":"c","x":284,"y":0.39},{"p":"c","r":1,"k":"c","x":284.45,"y":0.86},{"p":"c","r":1,"k":"c","x":284.85,"y":0.47},{"p":"c","r":1,"k":"c","x":285.3,"y":0.22},{"p":"c","r":1,"k":"c","x":285.9,"y":0.07},{"p":"c","r":1,"k":"c","x":286.8,"y":0},
{"p":"c","r":2,"k":"g1","x":289.2,"y":0},{"p":"c","r":2,"k":"g1","x":289.8,"y":0.13},{"p":"c","r":2,"k":"g1","x":290.4,"y":0.25},{"p":"c","r":2,"k":"g1","x":291,"y":0.13},{"p":"c","r":2,"k":"g1","x":291.6,"y":0},
{"p":"c","r":2,"k":"g2","x":287.6,"y":0},{"p":"c","r":2,"k":"g2","x":288.2,"y":0.03},{"p":"c","r":2,"k":"g2","x":288.8,"y":0.06},{"p":"c","r":2,"k":"g2","x":289.4,"y":0.03},{"p":"c","r":2,"k":"g2","x":290,"y":0},
{"p":"c","r":2,"k":"g3","x":286.3,"y":0},{"p":"c","r":2,"k":"g3","x":286.9,"y":0.09},{"p":"c","r":2,"k":"g3","x":287.5,"y":0.18},{"p":"c","r":2,"k":"g3","x":288.1,"y":0.09},{"p":"c","r":2,"k":"g3","x":288.7,"y":0},
{"p":"c","r":2,"k":"g4","x":285.2,"y":0},{"p":"c","r":2,"k":"g4","x":285.8,"y":0.11},{"p":"c","r":2,"k":"g4","x":286.4,"y":0.22},{"p":"c","r":2,"k":"g4","x":287,"y":0.11},{"p":"c","r":2,"k":"g4","x":287.6,"y":0},
{"p":"c","r":2,"k":"g5","x":284,"y":0},{"p":"c","r":2,"k":"g5","x":284.6,"y":0.15},{"p":"c","r":2,"k":"g5","x":285.2,"y":0.30},{"p":"c","r":2,"k":"g5","x":285.8,"y":0.15},{"p":"c","r":2,"k":"g5","x":286.4,"y":0},
{"p":"c","r":2,"k":"c","x":283.6,"y":0},{"p":"c","r":2,"k":"c","x":284,"y":0.33},{"p":"c","r":2,"k":"c","x":284.45,"y":0.74},{"p":"c","r":2,"k":"c","x":284.85,"y":0.41},{"p":"c","r":2,"k":"c","x":285.3,"y":0.19},{"p":"c","r":2,"k":"c","x":285.9,"y":0.06},{"p":"c","r":2,"k":"c","x":286.8,"y":0},
{"p":"c","r":3,"k":"g1","x":289.6,"y":0},{"p":"c","r":3,"k":"g1","x":290.2,"y":0.10},{"p":"c","r":3,"k":"g1","x":290.8,"y":0.20},{"p":"c","r":3,"k":"g1","x":291.4,"y":0.10},{"p":"c","r":3,"k":"g1","x":292,"y":0},
{"p":"c","r":3,"k":"g2","x":288.1,"y":0},{"p":"c","r":3,"k":"g2","x":288.7,"y":0.05},{"p":"c","r":3,"k":"g2","x":289.3,"y":0.10},{"p":"c","r":3,"k":"g2","x":289.9,"y":0.05},{"p":"c","r":3,"k":"g2","x":290.5,"y":0},
{"p":"c","r":3,"k":"g3","x":287.1,"y":0},{"p":"c","r":3,"k":"g3","x":287.7,"y":0.08},{"p":"c","r":3,"k":"g3","x":288.3,"y":0.15},{"p":"c","r":3,"k":"g3","x":288.9,"y":0.08},{"p":"c","r":3,"k":"g3","x":289.5,"y":0},
{"p":"c","r":3,"k":"g4","x":286.1,"y":0},{"p":"c","r":3,"k":"g4","x":286.7,"y":0.21},{"p":"c","r":3,"k":"g4","x":287.3,"y":0.42},{"p":"c","r":3,"k":"g4","x":287.9,"y":0.21},{"p":"c","r":3,"k":"g4","x":288.5,"y":0},
{"p":"c","r":3,"k":"g5","x":284.4,"y":0},{"p":"c","r":3,"k":"g5","x":285,"y":0.30},{"p":"c","r":3,"k":"g5","x":285.6,"y":0.60},{"p":"c","r":3,"k":"g5","x":286.2,"y":0.30},{"p":"c","r":3,"k":"g5","x":286.8,"y":0},
{"p":"c","r":3,"k":"c","x":283.6,"y":0},{"p":"c","r":3,"k":"c","x":284,"y":0.27},{"p":"c","r":3,"k":"c","x":284.45,"y":0.60},{"p":"c","r":3,"k":"c","x":284.85,"y":0.33},{"p":"c","r":3,"k":"c","x":285.3,"y":0.15},{"p":"c","r":3,"k":"c","x":285.9,"y":0.05},{"p":"c","r":3,"k":"c","x":286.8,"y":0},
{"p":"c","r":4,"k":"g1","x":289.6,"y":0},{"p":"c","r":4,"k":"g1","x":290.2,"y":0.15},{"p":"c","r":4,"k":"g1","x":290.8,"y":0.30},{"p":"c","r":4,"k":"g1","x":291.4,"y":0.15},{"p":"c","r":4,"k":"g1","x":292,"y":0},
{"p":"c","r":4,"k":"g2","x":288.3,"y":0},{"p":"c","r":4,"k":"g2","x":288.9,"y":0.04},{"p":"c","r":4,"k":"g2","x":289.5,"y":0.08},{"p":"c","r":4,"k":"g2","x":290.1,"y":0.04},{"p":"c","r":4,"k":"g2","x":290.7,"y":0},
{"p":"c","r":4,"k":"g3","x":287.4,"y":0},{"p":"c","r":4,"k":"g3","x":288,"y":0.05},{"p":"c","r":4,"k":"g3","x":288.6,"y":0.10},{"p":"c","r":4,"k":"g3","x":289.2,"y":0.05},{"p":"c","r":4,"k":"g3","x":289.8,"y":0},
{"p":"c","r":4,"k":"g4","x":286.2,"y":0},{"p":"c","r":4,"k":"g4","x":286.8,"y":0.29},{"p":"c","r":4,"k":"g4","x":287.4,"y":0.58},{"p":"c","r":4,"k":"g4","x":288,"y":0.29},{"p":"c","r":4,"k":"g4","x":288.6,"y":0},
{"p":"c","r":4,"k":"g5","x":284.3,"y":0},{"p":"c","r":4,"k":"g5","x":284.9,"y":0.40},{"p":"c","r":4,"k":"g5","x":285.5,"y":0.80},{"p":"c","r":4,"k":"g5","x":286.1,"y":0.40},{"p":"c","r":4,"k":"g5","x":286.7,"y":0},
{"p":"c","r":4,"k":"c","x":283.6,"y":0},{"p":"c","r":4,"k":"c","x":284,"y":0.13},{"p":"c","r":4,"k":"c","x":284.45,"y":0.28},{"p":"c","r":4,"k":"c","x":284.85,"y":0.15},{"p":"c","r":4,"k":"c","x":285.3,"y":0.07},{"p":"c","r":4,"k":"c","x":285.9,"y":0.02},{"p":"c","r":4,"k":"c","x":286.8,"y":0},
{"p":"c","r":5,"k":"g1","x":289.6,"y":0},{"p":"c","r":5,"k":"g1","x":290.2,"y":0.15},{"p":"c","r":5,"k":"g1","x":290.8,"y":0.30},{"p":"c","r":5,"k":"g1","x":291.4,"y":0.15},{"p":"c","r":5,"k":"g1","x":292,"y":0},
{"p":"c","r":5,"k":"g2","x":288.4,"y":0},{"p":"c","r":5,"k":"g2","x":289,"y":0.04},{"p":"c","r":5,"k":"g2","x":289.6,"y":0.08},{"p":"c","r":5,"k":"g2","x":290.2,"y":0.04},{"p":"c","r":5,"k":"g2","x":290.8,"y":0},
{"p":"c","r":5,"k":"g3","x":287.3,"y":0},{"p":"c","r":5,"k":"g3","x":287.9,"y":0.35},{"p":"c","r":5,"k":"g3","x":288.5,"y":0.70},{"p":"c","r":5,"k":"g3","x":289.1,"y":0.35},{"p":"c","r":5,"k":"g3","x":289.7,"y":0},
{"p":"c","r":5,"k":"g4","x":285.8,"y":0},{"p":"c","r":5,"k":"g4","x":286.4,"y":0.06},{"p":"c","r":5,"k":"g4","x":287,"y":0.12},{"p":"c","r":5,"k":"g4","x":287.6,"y":0.06},{"p":"c","r":5,"k":"g4","x":288.2,"y":0},
{"p":"c","r":5,"k":"g5","x":284.5,"y":0},{"p":"c","r":5,"k":"g5","x":285.1,"y":0.42},{"p":"c","r":5,"k":"g5","x":285.7,"y":0.83},{"p":"c","r":5,"k":"g5","x":286.3,"y":0.42},{"p":"c","r":5,"k":"g5","x":286.9,"y":0},
{"p":"c","r":5,"k":"c","x":283.6,"y":0},{"p":"c","r":5,"k":"c","x":284,"y":0.10},{"p":"c","r":5,"k":"c","x":284.45,"y":0.23},{"p":"c","r":5,"k":"c","x":284.85,"y":0.13},{"p":"c","r":5,"k":"c","x":285.3,"y":0.06},{"p":"c","r":5,"k":"c","x":285.9,"y":0.02},{"p":"c","r":5,"k":"c","x":286.8,"y":0},
{"p":"a","r":5,"k":"mt","x":292},{"p":"a","r":5,"k":"mt","x":288},{"p":"a","r":5,"k":"mt","x":284},{"p":"a","r":5,"k":"mt","x":280},
{"p":"b","r":5,"k":"mt","x":292},{"p":"b","r":5,"k":"mt","x":288},{"p":"b","r":5,"k":"mt","x":284},{"p":"b","r":5,"k":"mt","x":280},
{"p":"c","r":5,"k":"mt","x":292},{"p":"c","r":5,"k":"mt","x":288},{"p":"c","r":5,"k":"mt","x":284},{"p":"c","r":5,"k":"mt","x":280},
{"p":"a","r":1,"k":"t","t":"P"},{"p":"a","r":2,"k":"t","t":"Ch5"},{"p":"a","r":3,"k":"t","t":"DCh5"},{"p":"a","r":4,"k":"t","t":"Ch50"},{"p":"a","r":5,"k":"t","t":"DCh50"},
{"p":"b","r":1,"k":"t","t":"P"},{"p":"b","r":2,"k":"t","t":"Ch5"},{"p":"b","r":3,"k":"t","t":"DCh5"},{"p":"b","r":4,"k":"t","t":"Ch50"},{"p":"b","r":5,"k":"t","t":"DCh50"},
{"p":"c","r":1,"k":"t","t":"P"},{"p":"c","r":2,"k":"t","t":"Ch5"},{"p":"c","r":3,"k":"t","t":"DCh5"},{"p":"c","r":4,"k":"t","t":"Ch50"},{"p":"c","r":5,"k":"t","t":"DCh50"},
{"p":"a","r":1,"k":"m","t":"Li₂VO₂F"},{"p":"b","r":1,"k":"m","t":"Li₂V₀.₅Ti₀.₅O₂F"},{"p":"c","r":1,"k":"m","t":"Li₂V₀.₅Fe₀.₅O₂F"},
{"p":"a","r":1,"k":"l","t":"a)"},{"p":"b","r":1,"k":"l","t":"b)"},{"p":"c","r":1,"k":"l","t":"c)"},
{"p":"a","r":1,"k":"s","t":"C1s"},{"p":"a","r":1,"k":"lh","t":"C-H"},{"p":"a","r":1,"k":"lb","t":"CB"},{"p":"a","r":3,"k":"yt","t":"Intensity / a.u."}
]},
"facet":{
"row":{"field":"r","type":"ordinal","title":null,"header":{"labels":false}},
"column":{"field":"p","type":"nominal","title":null,"header":{"labels":false}}
},
"spacing":{"row":0,"column":29},
"bounds":"flush",
"spec":{
"width":102,"height":48.8,
"layer":[
{"transform":[{"filter":"datum.k=='t'"}],"mark":{"type":"rule","color":"#9aa2aa","strokeWidth":1},
 "encoding":{"y":{"datum":0,"type":"quantitative","scale":{"domain":[-0.15,1.2],"nice":false,"zero":false},"axis":null}}},
{"transform":[{"filter":"datum.k=='t'"}],"mark":{"type":"rule","color":"#a3aab2","strokeWidth":1,"strokeDash":[2,1.5]},
 "encoding":{"x":{"datum":285.0,"type":"quantitative","scale":{"domain":[280,294.5],"reverse":true,"nice":false,"zero":false},
  "axis":{"values":[294,293,292,291,290,289,288,287,286,285,284,283,282,281,280],"labelExpr":"datum.value % 4 === 0 ? datum.label : ''","tickSize":3.5,"labelPadding":8,"labelOverlap":false,"labelFlush":false,"title":"Binding energy / eV"}}}},
{"transform":[{"filter":"datum.k=='t'"}],"mark":{"type":"rule","color":"#a3aab2","strokeWidth":1,"strokeDash":[2,1.5]},
 "encoding":{"x":{"datum":284.45,"type":"quantitative","scale":{"domain":[280,294.5],"reverse":true,"nice":false,"zero":false},
  "axis":{"values":[294,293,292,291,290,289,288,287,286,285,284,283,282,281,280],"labelExpr":"datum.value % 4 === 0 ? datum.label : ''","tickSize":3.5,"labelPadding":8,"labelOverlap":false,"labelFlush":false,"title":"Binding energy / eV"}}}},
{"transform":[{"filter":"datum.k=='mt'"}],"mark":{"type":"rule","color":"#1e1e1e","strokeWidth":1},
 "encoding":{"x":{"field":"x","type":"quantitative","scale":{"domain":[280,294.5],"reverse":true,"nice":false,"zero":false},
  "axis":{"values":[294,293,292,291,290,289,288,287,286,285,284,283,282,281,280],"labelExpr":"datum.value % 4 === 0 ? datum.label : ''","tickSize":3.5,"labelPadding":8,"labelOverlap":false,"labelFlush":false,"title":"Binding energy / eV"}},
  "y":{"datum":-0.15,"type":"quantitative","scale":{"domain":[-0.15,1.2],"nice":false,"zero":false},"axis":null},"y2":{"datum":-0.316}}},
{"transform":[{"filter":"indexof(datum.k,'g')==0"}],"mark":{"type":"line","color":"#8d949c","strokeWidth":0.9,"interpolate":"monotone"},
 "encoding":{"x":{"field":"x","type":"quantitative","scale":{"domain":[280,294.5],"reverse":true,"nice":false,"zero":false},
  "axis":{"values":[294,293,292,291,290,289,288,287,286,285,284,283,282,281,280],"labelExpr":"datum.value % 4 === 0 ? datum.label : ''","tickSize":3.5,"labelPadding":8,"labelOverlap":false,"labelFlush":false,"title":"Binding energy / eV"}},
  "y":{"field":"y","type":"quantitative","scale":{"domain":[-0.15,1.2],"nice":false,"zero":false},"axis":null},
  "detail":{"field":"k","type":"nominal"}}},
{"transform":[{"filter":"datum.k=='c'"}],"mark":{"type":"area","color":"#8a1b1b","interpolate":"monotone"},
 "encoding":{"x":{"field":"x","type":"quantitative","scale":{"domain":[280,294.5],"reverse":true,"nice":false,"zero":false},
  "axis":{"values":[294,293,292,291,290,289,288,287,286,285,284,283,282,281,280],"labelExpr":"datum.value % 4 === 0 ? datum.label : ''","tickSize":3.5,"labelPadding":8,"labelOverlap":false,"labelFlush":false,"title":"Binding energy / eV"}},
  "y":{"field":"y","type":"quantitative","scale":{"domain":[-0.15,1.2],"nice":false,"zero":false},"axis":null}}},
{"transform":[{"filter":"datum.k=='e'"}],"mark":{"type":"line","strokeWidth":2.4,"interpolate":"monotone"},
 "encoding":{"x":{"field":"x","type":"quantitative","scale":{"domain":[280,294.5],"reverse":true,"nice":false,"zero":false},
  "axis":{"values":[294,293,292,291,290,289,288,287,286,285,284,283,282,281,280],"labelExpr":"datum.value % 4 === 0 ? datum.label : ''","tickSize":3.5,"labelPadding":8,"labelOverlap":false,"labelFlush":false,"title":"Binding energy / eV"}},
  "y":{"field":"y","type":"quantitative","scale":{"domain":[-0.15,1.2],"nice":false,"zero":false},"axis":null},
  "color":{"field":"r","type":"ordinal","scale":{"domain":[1,2,3,4,5],"range":["#111111","#3c62dc","#62d3f3","#66df2f","#66df2f"]},"legend":null}}},
{"transform":[{"filter":"datum.k=='t'"}],"mark":{"type":"text","align":"left","baseline":"middle","fontSize":8.5},
 "encoding":{"x":{"datum":294.1,"type":"quantitative","scale":{"domain":[280,294.5],"reverse":true,"nice":false,"zero":false},
  "axis":{"values":[294,293,292,291,290,289,288,287,286,285,284,283,282,281,280],"labelExpr":"datum.value % 4 === 0 ? datum.label : ''","tickSize":3.5,"labelPadding":8,"labelOverlap":false,"labelFlush":false,"title":"Binding energy / eV"}},
  "y":{"datum":0.46,"type":"quantitative","scale":{"domain":[-0.15,1.2],"nice":false,"zero":false},"axis":null},"text":{"field":"t"}}},
{"transform":[{"filter":"datum.k=='m' && datum.p=='a'"}],"mark":{"type":"text","align":"left","baseline":"middle","fontSize":11},
 "encoding":{"x":{"datum":294.1,"type":"quantitative","scale":{"domain":[280,294.5],"reverse":true,"nice":false,"zero":false},
  "axis":{"values":[294,293,292,291,290,289,288,287,286,285,284,283,282,281,280],"labelExpr":"datum.value % 4 === 0 ? datum.label : ''","tickSize":3.5,"labelPadding":8,"labelOverlap":false,"labelFlush":false,"title":"Binding energy / eV"}},
  "y":{"datum":0.96,"type":"quantitative","scale":{"domain":[-0.15,1.2],"nice":false,"zero":false},"axis":null},"text":{"field":"t"}}},
{"transform":[{"filter":"datum.k=='m' && datum.p!='a'"}],"mark":{"type":"text","align":"left","baseline":"middle","fontSize":9},
 "encoding":{"x":{"datum":294.1,"type":"quantitative","scale":{"domain":[280,294.5],"reverse":true,"nice":false,"zero":false},
  "axis":{"values":[294,293,292,291,290,289,288,287,286,285,284,283,282,281,280],"labelExpr":"datum.value % 4 === 0 ? datum.label : ''","tickSize":3.5,"labelPadding":8,"labelOverlap":false,"labelFlush":false,"title":"Binding energy / eV"}},
  "y":{"datum":0.96,"type":"quantitative","scale":{"domain":[-0.15,1.2],"nice":false,"zero":false},"axis":null},"text":{"field":"t"}}},
{"transform":[{"filter":"datum.k=='l'"}],"mark":{"type":"text","align":"left","baseline":"middle","fontSize":12},
 "encoding":{"x":{"datum":296.9,"type":"quantitative","scale":{"domain":[280,294.5],"reverse":true,"nice":false,"zero":false},
  "axis":{"values":[294,293,292,291,290,289,288,287,286,285,284,283,282,281,280],"labelExpr":"datum.value % 4 === 0 ? datum.label : ''","tickSize":3.5,"labelPadding":8,"labelOverlap":false,"labelFlush":false,"title":"Binding energy / eV"}},
  "y":{"datum":0.84,"type":"quantitative","scale":{"domain":[-0.15,1.2],"nice":false,"zero":false},"axis":null},"text":{"field":"t"}}},
{"transform":[{"filter":"datum.k=='s'"}],"mark":{"type":"text","align":"left","baseline":"middle","fontSize":12},
 "encoding":{"x":{"datum":296.92,"type":"quantitative","scale":{"domain":[280,294.5],"reverse":true,"nice":false,"zero":false},
  "axis":{"values":[294,293,292,291,290,289,288,287,286,285,284,283,282,281,280],"labelExpr":"datum.value % 4 === 0 ? datum.label : ''","tickSize":3.5,"labelPadding":8,"labelOverlap":false,"labelFlush":false,"title":"Binding energy / eV"}},
  "y":{"datum":1.477,"type":"quantitative","scale":{"domain":[-0.15,1.2],"nice":false,"zero":false},"axis":null},"text":{"field":"t"}}},
{"transform":[{"filter":"datum.k=='lh'"}],"mark":{"type":"text","align":"left","baseline":"middle","angle":270,"fontSize":8,"font":"Liberation Sans, Arial, sans-serif","color":"#111111"},
 "encoding":{"x":{"datum":285.65,"type":"quantitative","scale":{"domain":[280,294.5],"reverse":true,"nice":false,"zero":false},
  "axis":{"values":[294,293,292,291,290,289,288,287,286,285,284,283,282,281,280],"labelExpr":"datum.value % 4 === 0 ? datum.label : ''","tickSize":3.5,"labelPadding":8,"labelOverlap":false,"labelFlush":false,"title":"Binding energy / eV"}},
  "y":{"datum":1.255,"type":"quantitative","scale":{"domain":[-0.15,1.2],"nice":false,"zero":false},"axis":null},"text":{"field":"t"}}},
{"transform":[{"filter":"datum.k=='lb'"}],"mark":{"type":"text","align":"left","baseline":"middle","angle":270,"fontSize":8,"font":"Liberation Sans, Arial, sans-serif","color":"#a11d1d"},
 "encoding":{"x":{"datum":284.78,"type":"quantitative","scale":{"domain":[280,294.5],"reverse":true,"nice":false,"zero":false},
  "axis":{"values":[294,293,292,291,290,289,288,287,286,285,284,283,282,281,280],"labelExpr":"datum.value % 4 === 0 ? datum.label : ''","tickSize":3.5,"labelPadding":8,"labelOverlap":false,"labelFlush":false,"title":"Binding energy / eV"}},
  "y":{"datum":1.255,"type":"quantitative","scale":{"domain":[-0.15,1.2],"nice":false,"zero":false},"axis":null},"text":{"field":"t"}}},
{"transform":[{"filter":"datum.k=='yt'"}],"mark":{"type":"text","align":"center","baseline":"middle","angle":270,"fontSize":9.5,"font":"Liberation Sans, Arial, sans-serif","color":"#111111"},
 "encoding":{"x":{"datum":295.71,"type":"quantitative","scale":{"domain":[280,294.5],"reverse":true,"nice":false,"zero":false},
  "axis":{"values":[294,293,292,291,290,289,288,287,286,285,284,283,282,281,280],"labelExpr":"datum.value % 4 === 0 ? datum.label : ''","tickSize":3.5,"labelPadding":8,"labelOverlap":false,"labelFlush":false,"title":"Binding energy / eV"}},
  "y":{"datum":0.55,"type":"quantitative","scale":{"domain":[-0.15,1.2],"nice":false,"zero":false},"axis":null},"text":{"field":"t"}}}
]
},
"config":{
"view":{"stroke":"#1e1e1e","strokeWidth":1},
"axis":{"grid":false,"domain":false,"tickColor":"#1e1e1e","tickWidth":1,"labelColor":"#111111","labelFont":"DejaVu Sans Condensed, Liberation Sans Narrow, sans-serif","labelFontSize":9,"titleColor":"#111111","titleFont":"DejaVu Sans Condensed, Liberation Sans Narrow, sans-serif","titleFontSize":10.5,"titleFontWeight":"normal","titlePadding":3},
"text":{"font":"DejaVu Sans Condensed, Liberation Sans Narrow, sans-serif","color":"#111111"}
}
}
